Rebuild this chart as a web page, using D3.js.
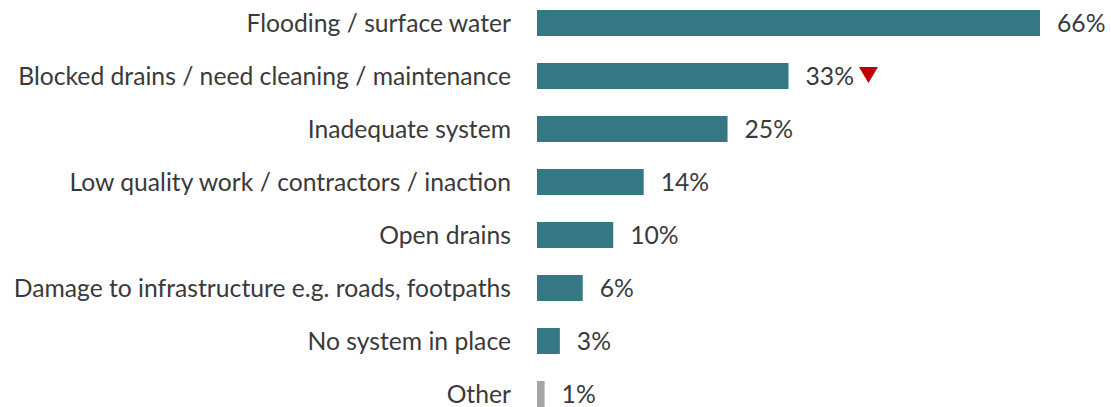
<!DOCTYPE html>
<html>
<head>
<meta charset="utf-8">
<script src="https://cdn.jsdelivr.net/npm/d3@7/dist/d3.min.js"></script>
<style>
  html, body { margin: 0; padding: 0; background: #fff; }
  svg text { font-family: Lato, "Open Sans", sans-serif; fill: #3a3a3a; }
</style>
</head>
<body>
<svg id="chart" width="1111" height="407"></svg>
<script>
// Reported drainage issues (% of respondents)
const categories = [
  "Flooding / surface water",
  "Blocked drains / need cleaning / maintenance",
  "Inadequate system",
  "Low quality work / contractors / inaction",
  "Open drains",
  "Damage to infrastructure e.g. roads, footpaths",
  "No system in place",
  "Other"
];
const values = [66, 33, 25, 14, 10, 6, 3, 1];
// categories flagged as significantly lower than the previous wave
const decreases = ["Blocked drains / need cleaning / maintenance"];
const greyCategories = ["Other"];

const svg = d3.select("#chart");
const x0 = 537;
const x = d3.scaleLinear().domain([0, 66]).range([x0, 1040]);
const y = d3.scaleBand().domain(categories).range([-3.5, 420.5]).paddingInner(0.5).paddingOuter(0.25);

const bh = 26;
const fs = "24.7px";
const cy = d => y(d) + y.bandwidth() / 2;

const rows = svg.selectAll("g.row").data(categories.map((c, i) => ({ c, v: values[i] })))
  .enter().append("g").attr("class", "row");

rows.append("rect")
  .attr("x", x(0))
  .attr("y", d => cy(d.c) - bh / 2)
  .attr("width", d => x(d.v) - x(0))
  .attr("height", bh)
  .attr("fill", d => greyCategories.includes(d.c) ? "#a6a6a6" : "#357783");

rows.append("text")
  .attr("x", 511)
  .attr("y", d => cy(d.c))
  .attr("dy", "0.35em")
  .attr("text-anchor", "end")
  .style("font-size", fs)
  .text(d => d.c);

rows.append("text")
  .attr("class", "val")
  .attr("x", d => x(d.v) + 17)
  .attr("y", d => cy(d.c))
  .attr("dy", "0.35em")
  .style("font-size", fs)
  .text(d => d.v + "%");

// downward markers after the value label
rows.filter(d => decreases.includes(d.c)).each(function(d) {
  const g = d3.select(this);
  const w = g.select("text.val").node().getComputedTextLength();
  const tx = x(d.v) + 17 + w + 5;
  const ty = cy(d.c) - 9;
  g.append("path")
    .attr("d", `M${tx},${ty} L${tx + 19},${ty} L${tx + 9.5},${ty + 16} Z`)
    .attr("fill", "#c00000");
});
</script>
</body>
</html>
